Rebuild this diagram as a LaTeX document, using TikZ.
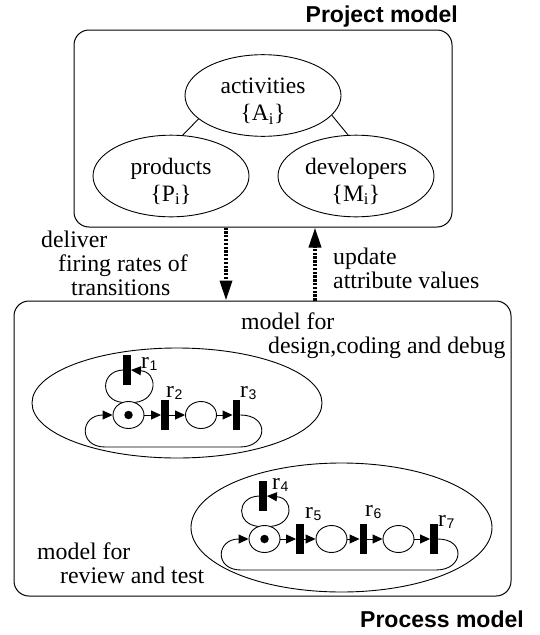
\documentclass[tikz,border=0pt]{standalone}
\usepackage{fontspec}
\setmainfont{Liberation Serif}
\newfontfamily\hel{Liberation Sans}
\usetikzlibrary{shapes.geometric,arrows.meta,calc}
\newcommand{\rlab}[1]{r\kern0.5pt\raisebox{-2pt}{\hel\fontsize{14}{14}\selectfont #1}}
\begin{document}
\begin{tikzpicture}[x=1pt,y=-1pt,
  rbox/.style={draw, rectangle, rounded corners=15pt, line width=1pt, inner sep=0pt},
  ell/.style={draw, ellipse, line width=0.9pt, inner sep=0pt, align=center,
    minimum width=156pt, minimum height=77pt, text height=54pt,
    font=\fontsize{23.5}{27}\selectfont},
  lbl/.style={inner sep=0pt, align=left, anchor=base west, font=\fontsize{23.8}{24}\selectfont},
  title/.style={inner sep=0pt, anchor=base east, font=\hel\bfseries\fontsize{23}{24}\selectfont},
  rl/.style={inner sep=0pt, anchor=base west, font=\fontsize{23.5}{24}\selectfont},
  big/.style={draw, ellipse, line width=0.9pt, inner sep=0pt},
  bar/.style={rectangle, fill=black, minimum width=7.5pt, minimum height=30pt, inner sep=0pt},
  place/.style={ellipse, draw, minimum width=31pt, minimum height=27pt, inner sep=0pt, line width=0.9pt},
  tok/.style={circle, fill=black, minimum size=8.5pt, inner sep=0pt},
  arc/.style={-{Triangle[length=10pt,width=9pt]}, line width=0.9pt},
  plain/.style={line width=0.9pt},
  bigarrow/.style={line width=3.5pt, dash pattern=on 2.3pt off 1.5pt,
    -{Triangle[length=20pt,width=12pt]}},
]
\useasboundingbox (0,0) rectangle (540,635);

% boxes
\node[rbox, minimum width=378pt, minimum height=197pt] (proj) at (263,128.5) {};
\node[rbox, minimum width=497pt, minimum height=295pt] (proc) at (262.5,448.5) {};
\node[title] (tproj) at (458,22) {Project model};
\node[title] (tproc) at (524,627) {Process model};

% project model
\node[ell] (act) at (263,95.5) {activities\\\{A\textsubscript{i}\}};
\node[ell] (prod) at (171,176) {products\\\{P\textsubscript{i}\}};
\node[ell] (dev) at (356,176) {developers\\\{M\textsubscript{i}\}};
\draw[plain] (act.200) -- (prod.74);
\draw[plain] (act.344) -- (dev.101);

% arrows between models
\coordinate (xa) at (226,0);
\coordinate (xb) at (315,0);
\draw[bigarrow] (proj.south -| xa) -- (proc.north -| xa);
\draw[bigarrow] (proc.north -| xb) -- (proj.south -| xb);
\node[lbl] (ldel) at (41,295) {deliver\\\hspace*{17pt}firing rates of\\\hspace*{30pt}transitions};
\node[lbl] (lupd) at (333,288) {update\\attribute values};

% process model labels
\node[lbl] (lm1) at (241,353) {model for\\\hspace*{27pt}design,coding and debug};
\node[lbl] (lm2) at (37,583) {model for\\\hspace*{23pt}review and test};

% net 1
\node[big, minimum width=290pt, minimum height=110pt] (e1) at (177,403) {};
\node[place] (p1) at (128.5,415) {};
\node[tok] (k1) at (p1) {};
\node[bar] (t1) at (127,370) {};
\node[bar] (t2) at (165,415) {};
\node[place] (p2) at (201,415) {};
\node[bar] (t3) at (236.5,415) {};
\draw[arc] (p1) -- (t2);
\draw[arc] (t2) -- (p2);
\draw[arc] (p2) -- (t3);
\draw[plain] (p1.118) .. controls (100,400) and (100,371) .. (t1.west);
\draw[arc] (p1.62) .. controls (158,400) and (158,372) .. (t1.east);
\draw[arc] (t3.east) .. controls (270,415) and (268,447) .. (240,447) -- (105,447)
  .. controls (78,447) and (80,415) .. (p1.west);
\node[rl] (r1) at (141,368) {\rlab{1}};
\node[rl] (r2) at (166,397) {\rlab{2}};
\node[rl] (r3) at (240,397) {\rlab{3}};

% net 2
\node[big, minimum width=301pt, minimum height=129pt] (e2) at (341.5,527.5) {};
\node[place] (p4) at (264.5,539) {};
\node[tok] (k2) at (p4) {};
\node[bar] (t4) at (263,496) {};
\node[bar] (t5) at (300,539) {};
\node[place] (p5) at (331.5,539) {};
\node[bar] (t6) at (363.5,539) {};
\node[place] (p6) at (398.5,539) {};
\node[bar] (t7) at (434,539) {};
\draw[arc] (p4) -- (t5);
\draw[arc] (t5) -- (p5);
\draw[arc] (p5) -- (t6);
\draw[arc] (t6) -- (p6);
\draw[arc] (p6) -- (t7);
\draw[plain] (p4.118) .. controls (236,524) and (236,497) .. (t4.west);
\draw[arc] (p4.62) .. controls (294,524) and (294,498) .. (t4.east);
\draw[arc] (t7.east) .. controls (466,539) and (464,570) .. (436,570) -- (241,570)
  .. controls (214,570) and (216,539) .. (p4.west);
\node[rl] (r4) at (272,489) {\rlab{4}};
\node[rl] (r5) at (305,518) {\rlab{5}};
\node[rl] (r6) at (365,516) {\rlab{6}};
\node[rl] (r7) at (438,526) {\rlab{7}};
\end{tikzpicture}
\end{document}
